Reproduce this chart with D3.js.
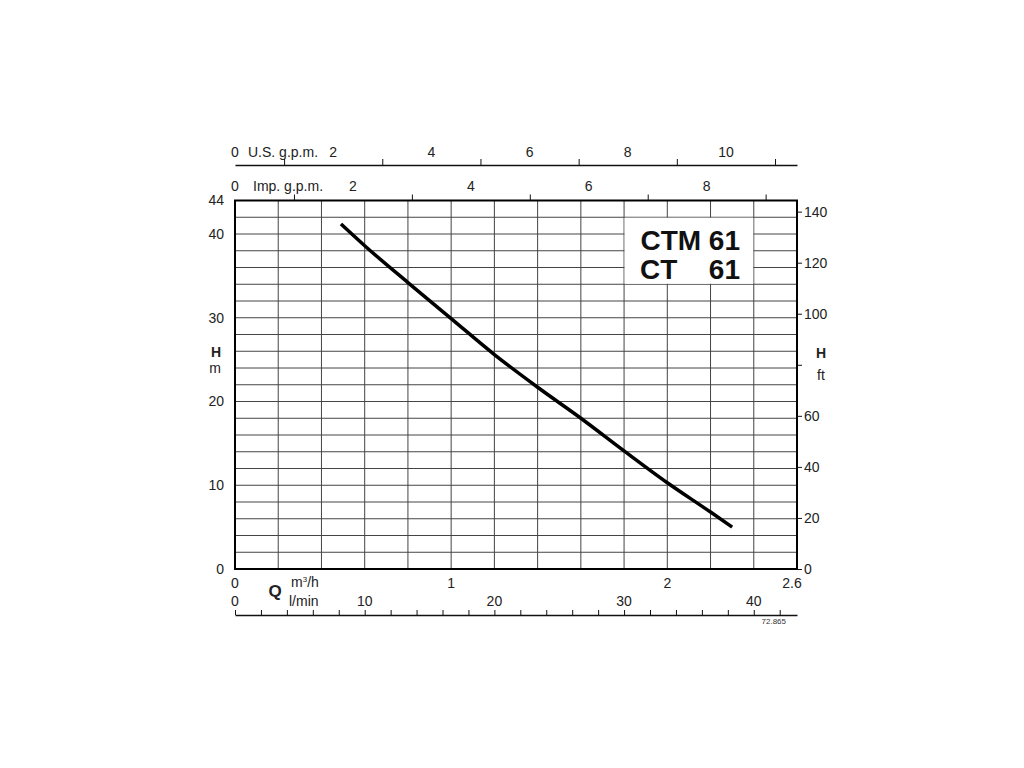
<!DOCTYPE html>
<html>
<head>
<meta charset="utf-8">
<script src="https://cdn.jsdelivr.net/npm/d3@7"></script>
<style>
  body { margin: 0; background: #fff; }
  svg { font-family: "Liberation Sans", Arial, sans-serif; }
  .lbl { font-size: 14px; fill: #222; }
  .axis path, .axis line { stroke: #111; }
</style>
</head>
<body>
<svg id="chart" width="1024" height="768"></svg>
<script>
// curve: flow (m3/h) vs head (m)
const flowM3h = [0.49, 0.6, 0.8, 1.0, 1.2, 1.4, 1.6, 1.8, 2.0, 2.2, 2.3];
const headM = [41.2, 38.6, 34.2, 29.9, 25.6, 21.7, 18.0, 14.1, 10.3, 6.8, 5.0];

const headTicksM = [0, 10, 20, 30, 40, 44];
const headTicksFt = [0, 20, 40, 60, 80, 100, 120, 140];
const flowTicksM3h = [0, 1, 2, 2.6];
const flowTicksLmin = [0, 10, 20, 30, 40];
const usGpmLabels = [0, 2, 4, 6, 8, 10];
const impGpmLabels = [0, 2, 4, 6, 8];

const titleLines = ['CTM 61', 'CT', '61'];

const svg = d3.select('#chart');

const pLeft = 235, pRight = 797, pTop = 200.5, pBottom = 569;

const x = d3.scaleLinear().domain([0, 2.6]).range([pLeft, pRight]);
const y = d3.scaleLinear().domain([0, 44]).range([pBottom, pTop]);
const ft = d3.scaleLinear().domain([0, 44 * 3.2808]).range([pBottom, pTop]);
const lmin = d3.scaleLinear().domain([0, 2.6 * 1000 / 60]).range([pLeft, pRight]);
const usg = d3.scaleLinear().domain([0, 2.6 * 4.4029]).range([pLeft, pRight]);
const impg = d3.scaleLinear().domain([0, 2.6 * 3.6662]).range([pLeft, pRight]);

// grid
const grid = svg.append('g').attr('stroke', '#444').attr('stroke-width', 1);
grid.selectAll('.h')
	.data(d3.range(2, 44, 2))
	.enter()
	.append('line')
	.attr('x1', pLeft).attr('x2', pRight)
	.attr('y1', d => y(d)).attr('y2', d => y(d));
grid.selectAll('.v')
	.data(d3.range(1, 13).map(i => i * 0.2))
	.enter()
	.append('line')
	.attr('y1', pTop).attr('y2', pBottom)
	.attr('x1', d => x(d)).attr('x2', d => x(d));

// white box behind the model name
svg.append('rect')
	.attr('x', x(1.8) + 0.5)
	.attr('y', y(42) + 0.5)
	.attr('width', x(2.4) - x(1.8) - 1)
	.attr('height', y(34) - y(42) - 1)
	.attr('fill', '#fff');

// frame
svg.append('rect')
	.attr('x', pLeft).attr('y', pTop)
	.attr('width', pRight - pLeft).attr('height', pBottom - pTop)
	.attr('fill', 'none').attr('stroke', '#000').attr('stroke-width', 2);

// curve
const line = d3.line()
	.x((d, i) => x(flowM3h[i]))
	.y(d => y(d))
	.curve(d3.curveMonotoneX);
svg.append('path')
	.datum(headM)
	.attr('d', line)
	.attr('fill', 'none')
	.attr('stroke', '#000')
	.attr('stroke-width', 3.5)
	.attr('stroke-linecap', 'butt');

// left axis: H m
svg.append('g')
	.selectAll('text')
	.data(headTicksM)
	.enter()
	.append('text')
	.attr('class', 'lbl')
	.attr('x', 224)
	.attr('y', d => y(d))
	.attr('dy', '0.35em')
	.attr('text-anchor', 'end')
	.text(d => d);
svg.append('text').attr('class', 'lbl').attr('x', 216).attr('y', 357)
	.attr('text-anchor', 'middle').attr('font-weight', 'bold').text('H');
svg.append('text').attr('class', 'lbl').attr('x', 215).attr('y', 373)
	.attr('text-anchor', 'middle').text('m');

// right axis: H ft
const rAxis = svg.append('g')
	.attr('class', 'axis')
	.attr('transform', 'translate(' + pRight + ',0)')
	.call(d3.axisRight(ft).tickValues(headTicksFt).tickSize(5).tickSizeOuter(0)
		.tickFormat(d => (d === 80 ? '' : d)));
rAxis.select('.domain').remove();
rAxis.attr('font-family', null).attr('font-size', null);
rAxis.selectAll('text').attr('class', 'lbl').attr('x', 7).attr('fill', '#222');
svg.append('text').attr('class', 'lbl').attr('x', 821).attr('y', 358)
	.attr('text-anchor', 'middle').attr('font-weight', 'bold').text('H');
svg.append('text').attr('class', 'lbl').attr('x', 821).attr('y', 380)
	.attr('text-anchor', 'middle').text('ft');

// top axis: U.S. g.p.m.
const usY = 165;
svg.append('g')
	.attr('class', 'axis')
	.attr('transform', 'translate(0,' + usY + ')')
	.call(d3.axisTop(usg).tickValues([1, 3, 5, 7, 9, 11]).tickSize(6).tickSizeOuter(0).tickFormat(''))
	.select('.domain').attr('stroke-width', 1.5);
svg.append('g')
	.selectAll('text')
	.data(usGpmLabels)
	.enter()
	.append('text')
	.attr('class', 'lbl')
	.attr('x', d => usg(d))
	.attr('y', usY - 8)
	.attr('text-anchor', 'middle')
	.text(d => d);
svg.append('text').attr('class', 'lbl').attr('x', 248).attr('y', usY - 8).text('U.S. g.p.m.');

// top axis: Imp. g.p.m. (on the frame)
svg.append('g')
	.attr('class', 'axis')
	.attr('transform', 'translate(0,' + pTop + ')')
	.call(d3.axisTop(impg).tickValues([1, 3, 5, 7, 9]).tickSize(6).tickSizeOuter(0).tickFormat(''))
	.select('.domain').remove();
svg.append('g')
	.selectAll('text')
	.data(impGpmLabels)
	.enter()
	.append('text')
	.attr('class', 'lbl')
	.attr('x', d => impg(d))
	.attr('y', pTop - 10)
	.attr('text-anchor', 'middle')
	.text(d => d);
svg.append('text').attr('class', 'lbl').attr('x', 253).attr('y', pTop - 10).text('Imp. g.p.m.');

// bottom: m3/h labels
svg.append('g')
	.selectAll('text')
	.data(flowTicksM3h)
	.enter()
	.append('text')
	.attr('class', 'lbl')
	.attr('x', d => (d === 2.6 ? x(d) - 5 : x(d)))
	.attr('y', 588)
	.attr('text-anchor', 'middle')
	.text(d => d);

// bottom: l/min axis
const lY = 615;
svg.append('g')
	.attr('class', 'axis')
	.attr('transform', 'translate(0,' + lY + ')')
	.call(d3.axisTop(lmin).tickValues(d3.range(0, 43, 2)).tickSize(5).tickSizeOuter(0).tickFormat(''))
	.select('.domain').attr('stroke-width', 1.5);
svg.append('g')
	.selectAll('text')
	.data(flowTicksLmin)
	.enter()
	.append('text')
	.attr('class', 'lbl')
	.attr('x', d => lmin(d))
	.attr('y', 606)
	.attr('text-anchor', 'middle')
	.text(d => d);

svg.append('text').attr('x', 275).attr('y', 597).attr('font-size', 17)
	.attr('font-weight', 'bold').attr('fill', '#222').attr('text-anchor', 'middle').text('Q');
svg.append('text').attr('class', 'lbl').attr('x', 291).attr('y', 587)
	.html('m<tspan font-size="8" dy="-5">3</tspan><tspan dy="5">/h</tspan>');
svg.append('text').attr('class', 'lbl').attr('x', 289).attr('y', 606).text('l/min');

svg.append('text').attr('x', 786).attr('y', 624).attr('font-size', 8)
	.attr('fill', '#333').attr('text-anchor', 'end').text('72.865');

// model name, one text block with two lines
const title = svg.append('text')
	.attr('font-size', 28)
	.attr('font-weight', 'bold')
	.attr('fill', '#111');
title.append('tspan').attr('x', 740).attr('y', 250).attr('text-anchor', 'end').text(titleLines[0]);
title.append('tspan').attr('x', 640).attr('y', 279).attr('text-anchor', 'start').text(titleLines[1]);
title.append('tspan').attr('x', 740).attr('y', 279).attr('text-anchor', 'end').text(titleLines[2]);
</script>
</body>
</html>
